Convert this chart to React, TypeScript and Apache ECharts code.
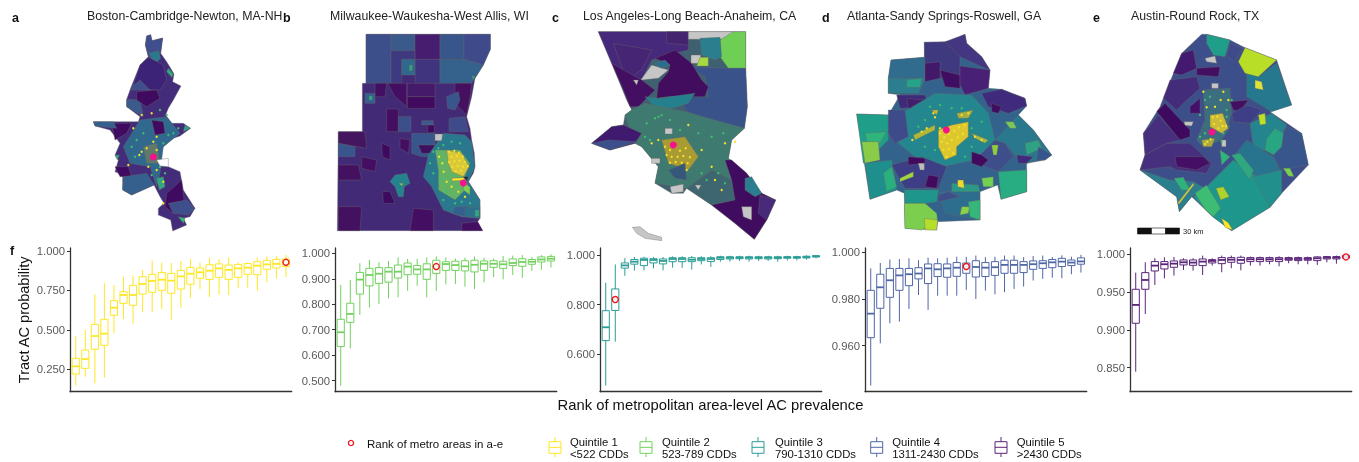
import React, { useEffect, useRef } from "react";
import * as echarts from "echarts";

// ---------- box-plot readings: [low whisker, Q1, median, Q3, high whisker] ----------
const BOX_A = [
  [0.146,0.220,0.269,0.320,0.461],[0.203,0.256,0.315,0.372,0.499],[0.161,0.377,0.461,0.535,0.725],[0.197,0.402,0.476,0.567,0.795],
  [0.478,0.593,0.641,0.685,0.784],[0.569,0.668,0.721,0.742,0.837],[0.539,0.656,0.721,0.782,0.844],[0.613,0.727,0.791,0.837,0.880],
  [0.613,0.738,0.810,0.852,0.939],[0.630,0.751,0.818,0.863,0.926],[0.561,0.732,0.812,0.858,0.924],[0.641,0.759,0.839,0.877,0.937],
  [0.702,0.789,0.856,0.896,0.951],[0.759,0.827,0.865,0.892,0.926],[0.708,0.820,0.875,0.913,0.958],[0.723,0.833,0.890,0.918,0.949],
  [0.721,0.820,0.880,0.911,0.958],[0.765,0.833,0.890,0.915,0.928],[0.768,0.852,0.894,0.920,0.928],[0.749,0.850,0.907,0.932,0.958],
  [0.801,0.884,0.915,0.941,0.964],[0.827,0.892,0.918,0.947,0.970],[0.835,0.901,0.928,0.949,0.975],
];
const BOX_B = [
  [0.480,0.634,0.690,0.741,0.876],[0.627,0.729,0.762,0.804,0.895],[0.758,0.840,0.897,0.925,0.961],[0.787,0.872,0.915,0.941,0.974],
  [0.801,0.882,0.920,0.944,0.965],[0.823,0.887,0.928,0.944,0.970],[0.827,0.903,0.928,0.954,0.984],[0.853,0.916,0.948,0.962,0.978],
  [0.873,0.918,0.937,0.952,0.978],[0.827,0.898,0.937,0.959,0.984],[0.853,0.921,0.948,0.973,0.988],[0.878,0.933,0.958,0.967,0.984],
  [0.880,0.933,0.954,0.969,0.980],[0.869,0.931,0.949,0.971,0.983],[0.860,0.927,0.955,0.973,0.988],[0.886,0.933,0.959,0.970,0.983],
  [0.907,0.945,0.959,0.971,0.980],[0.898,0.941,0.957,0.969,0.990],[0.915,0.952,0.962,0.978,0.991],[0.904,0.949,0.966,0.979,0.993],
  [0.931,0.957,0.967,0.976,0.986],[0.936,0.966,0.976,0.986,0.993],[0.944,0.970,0.979,0.988,0.996],
];
const BOX_C = [
  [0.472,0.654,0.708,0.775,0.888],[0.650,0.776,0.820,0.863,0.962],[0.916,0.947,0.958,0.968,0.987],[0.937,0.963,0.973,0.982,0.992],
  [0.938,0.957,0.980,0.987,0.993],[0.946,0.968,0.980,0.985,0.992],[0.938,0.964,0.976,0.984,0.992],[0.949,0.973,0.984,0.989,0.995],
  [0.948,0.973,0.984,0.989,0.995],[0.941,0.973,0.981,0.989,0.996],[0.962,0.977,0.984,0.989,0.995],[0.952,0.974,0.984,0.989,0.995],
  [0.973,0.982,0.989,0.993,0.997],[0.973,0.984,0.989,0.993,0.997],[0.976,0.985,0.989,0.993,0.997],[0.973,0.984,0.989,0.993,0.997],
  [0.976,0.985,0.989,0.993,0.997],[0.976,0.984,0.989,0.993,0.997],[0.973,0.985,0.989,0.993,0.997],[0.978,0.987,0.991,0.993,0.997],
  [0.978,0.987,0.991,0.993,0.997],[0.981,0.988,0.992,0.995,0.999],[0.987,0.992,0.995,0.997,1.000],
];
const BOX_D = [
  [0.9429,0.9634,0.9737,0.9837,0.9931],[0.9610,0.9760,0.9850,0.9906,0.9954],[0.9696,0.9807,0.9880,0.9931,0.9969],[0.9703,0.9837,0.9901,0.9931,0.9971],
  [0.9757,0.9857,0.9906,0.9931,0.9974],[0.9817,0.9886,0.9909,0.9934,0.9966],[0.9753,0.9866,0.9931,0.9950,0.9977],[0.9814,0.9896,0.9927,0.9951,0.9974],
  [0.9814,0.9893,0.9931,0.9950,0.9977],[0.9814,0.9897,0.9934,0.9956,0.9981],[0.9839,0.9910,0.9939,0.9954,0.9980],[0.9800,0.9894,0.9937,0.9964,0.9986],
  [0.9836,0.9896,0.9934,0.9956,0.9979],[0.9820,0.9901,0.9936,0.9960,0.9981],[0.9829,0.9910,0.9946,0.9966,0.9986],[0.9843,0.9910,0.9946,0.9966,0.9986],
  [0.9853,0.9913,0.9946,0.9960,0.9979],[0.9879,0.9927,0.9949,0.9963,0.9984],[0.9886,0.9931,0.9953,0.9964,0.9986],[0.9891,0.9934,0.9957,0.9969,0.9980],
  [0.9889,0.9939,0.9960,0.9974,0.9987],[0.9906,0.9943,0.9956,0.9967,0.9981],[0.9913,0.9949,0.9961,0.9976,0.9989],
];
const BOX_E = [
  [0.8447,0.9087,0.9330,0.9537,0.9757],[0.9210,0.9537,0.9660,0.9757,0.9894],[0.9594,0.9779,0.9850,0.9903,0.9947],[0.9682,0.9806,0.9868,0.9903,0.9960],
  [0.9718,0.9828,0.9876,0.9912,0.9965],[0.9793,0.9859,0.9894,0.9925,0.9947],[0.9784,0.9854,0.9890,0.9925,0.9947],[0.9726,0.9850,0.9903,0.9938,0.9982],
  [0.9850,0.9885,0.9912,0.9929,0.9947],[0.9762,0.9876,0.9925,0.9956,0.9982],[0.9815,0.9894,0.9929,0.9956,0.9982],[0.9788,0.9881,0.9925,0.9960,0.9982],
  [0.9850,0.9903,0.9934,0.9956,0.9969],[0.9850,0.9903,0.9934,0.9956,0.9969],[0.9868,0.9907,0.9934,0.9956,0.9969],[0.9841,0.9903,0.9934,0.9956,0.9974],
  [0.9881,0.9921,0.9938,0.9956,0.9969],[0.9868,0.9916,0.9938,0.9956,0.9969],[0.9868,0.9921,0.9938,0.9956,0.9969],[0.9859,0.9916,0.9947,0.9965,0.9974],
  [0.9894,0.9938,0.9956,0.9969,0.9978],[0.9876,0.9938,0.9956,0.9969,0.9982],[0.9929,0.9951,0.9965,0.9982,0.9991],
];
const TICKS_A = [0.25, 0.5, 0.75, 1];
const TICKS_B = [0.5, 0.6, 0.7, 0.8, 0.9, 1];
const TICKS_C = [0.6, 0.8, 1];
const TICKS_D = [0.96, 0.98, 1];
const TICKS_E = [0.85, 0.9, 0.95, 1];
// [rank, probability] of the metro area picked out in panels a-e
const RING_A = [23, 0.928];
const RING_B = [11, 0.948];
const RING_C = [2, 0.82];
const RING_D = [11, 0.9939];
const RING_E = [23, 0.9965];
const QUINTILE_COLORS = ["#FDE725", "#72D15F", "#2A9D95", "#5067A6", "#5A2478"];
const METRO_NAMES = ["Boston-Cambridge-Newton, MA-NH", "Milwaukee-Waukesha-West Allis, WI", "Los Angeles-Long Beach-Anaheim, CA", "Atlanta-Sandy Springs-Roswell, GA", "Austin-Round Rock, TX"];
const LEGEND_LINES = [["Quintile 1", "<522 CDDs"], ["Quintile 2", "523-789 CDDs"], ["Quintile 3", "790-1310 CDDs"], ["Quintile 4", "1311-2430 CDDs"], ["Quintile 5", ">2430 CDDs"]];

// ---------- map regions: [fill, flat x,y list in map units] ----------
type Region = [string, number[]];
const MAP_A: Region[] = [
  ["#432D7B",[440,108,452,104,456,122,488,114,482,160,500,185,512,205,522,222,518,245,543,258,520,300,505,325,497,345,515,370,550,370,572,385,540,408,520,415,490,440,478,470,480,492,505,500,540,515,550,570,585,625,570,650,550,655,560,675,518,693,512,660,475,645,475,625,492,610,480,590,462,555,395,585,368,570,368,525,345,515,355,480,345,465,360,430,330,390,285,378,280,365,415,365,420,350,380,320,380,298,393,262,420,195,445,170,436,135]],
  ["#3F4E8C",[440,108,452,104,456,122,488,114,482,160,465,180,445,170,436,135]],
  ["#2B7A8C",[447,160,475,152,482,175,465,192]],
  ["#3C2378",[420,195,445,172,490,195,500,240,480,270,395,268]],
  ["#3A5A8C",[380,298,420,300,430,350,380,320]],
  ["#3E4F8B",[393,262,420,240,450,270,395,270]],
  ["#3F0A5F",[410,275,470,270,480,295,440,320,410,300]],
  ["#3F0A5F",[335,370,395,370,380,400,345,420]],
  ["#3F0A5F",[345,500,385,500,395,530,360,530]],
  ["#3F0A5F",[500,580,545,540,552,600,520,640,495,620]],
  ["#35608D",[370,530,440,520,462,555,395,585,368,570]],
  ["#3E4F8B",[505,610,560,600,585,625,565,645,520,640]],
  ["#35608D",[280,365,340,365,350,385,285,378]],
  ["#31688E",[420,360,500,350,540,400,490,440,480,520,470,560,450,500,390,490,370,440]],
  ["#3F0A5F",[455,360,490,365,495,400,465,405]],
  ["#5F7A6A",[430,440,470,430,480,490,440,490]],
  ["#2FA87F",[555,375,570,385,550,395]],
  ["#2FA87F",[505,205,520,222,515,232,500,215]],
  ["#35B779",[535,650,555,655,550,670]],
  ["#2FA87F",[345,465,358,465,352,480]],
  ["#2FA87F",[470,535,490,530,495,560,478,570]],
  ["#ffffff",[470,480,505,475,505,500,480,498]],
];
const MAP_B: Region[] = [
  ["#432A77",[213,103,586,103,586,148,565,195,540,235,530,290,515,350,525,385,530,420,538,460,540,500,535,520,520,545,530,560,555,600,555,655,548,665,563,692,127,692,130,395,202,395,202,250,213,250]],
  ["#3D4F8A",[213,103,288,103,288,250,213,250]],
  ["#3B5A8C",[288,103,360,103,360,152,288,152]],
  ["#471D6F",[360,103,435,103,435,178,360,178]],
  ["#39568C",[435,103,507,103,507,178,435,178]],
  ["#3F4A8A",[507,103,586,103,586,148,565,195,507,178]],
  ["#3F3A80",[288,152,360,152,360,178,320,178,320,250,288,250]],
  ["#40347E",[360,178,435,178,435,250,360,250]],
  ["#35618D",[435,178,507,178,565,195,540,235,530,250,435,250]],
  ["#31688E",[320,178,360,178,360,225,320,225]],
  ["#2FA87F",[343,195,352,195,352,212,343,212]],
  ["#2FA87F",[530,228,540,228,535,240]],
  ["#440F62",[240,250,275,250,270,290,240,290]],
  ["#440F62",[278,250,335,250,335,320,300,290]],
  ["#451A6B",[337,250,420,250,420,290,337,290]],
  ["#420A5F",[337,290,420,290,420,325,337,325]],
  ["#440F62",[275,327,310,327,310,395,275,395]],
  ["#3D4F8A",[310,350,348,350,348,395,310,395]],
  ["#451060",[480,250,530,250,525,290,515,345,480,310]],
  ["#39568C",[455,290,490,275,495,300,480,330,458,325]],
  ["#3D5A8C",[380,362,415,362,415,375,380,375]],
  ["#420A5F",[398,375,418,375,418,398,398,398]],
  ["#3F4A8A",[462,355,510,350,520,395,462,395]],
  ["#35608D",[210,280,240,280,240,310,210,310]],
  ["#2FA87F",[222,288,232,288,232,300,222,300]],
  ["#44165F",[130,395,210,395,215,445,130,430]],
  ["#39568C",[130,430,180,440,180,470,130,470]],
  ["#441060",[130,495,190,495,200,540,130,540]],
  ["#440F62",[200,470,245,480,240,515,200,505]],
  ["#3E0A5F",[260,430,285,440,285,480,262,470]],
  ["#440F62",[315,415,345,420,340,460,315,445]],
  ["#441060",[130,620,200,620,195,692,130,692]],
  ["#440F62",[355,625,415,630,415,692,345,692]],
  ["#3A0B5E",[263,575,285,575,300,610,265,610]],
  ["#440F62",[500,670,548,665,563,692,500,692]],
  ["#39568C",[350,400,420,400,420,470,380,470,350,460]],
  ["#3F1060",[370,435,420,435,420,460,380,460]],
  ["#2A788E",[400,465,445,400,510,405,530,425,540,500,520,545,555,600,555,655,500,650,445,630,410,560,385,530]],
  ["#C4C4C4",[420,402,443,402,440,422,420,422]],
  ["#63B365",[420,450,495,450,525,490,510,530,520,560,480,600,430,570,430,510]],
  ["#D9C93A",[455,450,500,460,522,500,505,530,470,515,460,490]],
  ["#FDE725",[470,535,508,533,508,541,472,543]],
  ["#222244",[505,530,520,530,515,542]],
  ["#7AD151",[505,550,525,560,525,585,505,570]],
  ["#35608D",[480,620,520,620,510,650,470,640]],
  ["#2A6F8E",[510,625,555,620,555,655,510,650]],
  ["#2FA87F",[540,630,552,630,552,650,540,650]],
  ["#25838E",[300,525,335,520,345,550,328,560,325,590,310,590,300,560,285,545]],
  ["#9ACD50",[312,550,325,550,320,558]],
];
const MAP_C: Region[] = [
  ["#3F6070",[130,95,572,95,572,205,577,320,568,385,530,420,520,475,575,520,620,580,662,600,635,660,598,718,540,670,470,615,395,565,385,580,350,580,300,550,310,500,260,440,240,430,165,450,110,430,170,380,205,375,210,345,230,330,215,300,170,190]],
  ["#46297A",[130,95,400,95,400,150,340,165,290,180,260,240,215,270,170,190]],
  ["#472575",[175,130,290,150,260,210,215,240]],
  ["#45246F",[335,95,400,95,400,135,335,130]],
  ["#C6C6C6",[400,95,535,95,535,118,400,118]],
  ["#6FCF55",[535,95,572,95,572,205,520,205,495,170,495,120]],
  ["#2A7E8E",[435,115,495,112,500,170,480,180,440,165]],
  ["#39528A",[400,200,520,205,572,205,577,320,568,385,470,370,390,330,380,290,460,290,450,230]],
  ["#420C5F",[300,175,360,150,410,190,440,240,460,260,450,290,340,290,305,295,310,250,340,215,345,195]],
  ["#C6C6C6",[408,165,437,165,437,190,408,190]],
  ["#A6D940",[435,172,460,172,460,198,425,198]],
  ["#C6C6C6",[257,240,290,195,340,210,310,235,260,240]],
  ["#2C6E8E",[295,190,330,180,345,195,320,205]],
  ["#440E62",[170,190,260,240,300,270,270,300,250,320,225,320,205,270]],
  ["#25808E",[270,290,310,295,420,280,400,310,350,325,300,320]],
  ["#3F7A70",[210,345,230,330,270,310,390,335,568,385,530,420,520,475,575,520,460,560,395,565,300,550,310,500,260,440,240,430]],
  ["#3F1A6F",[110,430,170,380,205,375,260,400,240,430,165,450]],
  ["#3A4F8C",[110,430,160,420,245,425,165,450]],
  ["#A89B33",[320,420,390,410,430,470,400,510,340,490]],
  ["#35587A",[340,510,390,490,395,540,360,535]],
  ["#3D6670",[395,565,470,510,530,540,540,600,470,615]],
  ["#3F0C60",[510,480,530,480,575,520,620,580,662,600,635,660,598,718,540,670,470,615,540,600,530,540]],
  ["#2A7E8E",[570,535,590,530,620,580,600,590,570,570]],
  ["#482A7A",[615,585,662,600,635,660,610,640]],
  ["#C6C6C6",[345,560,385,552,385,575,350,580]],
  ["#C6C6C6",[330,385,352,385,352,402,330,402]],
  ["#C6C6C6",[290,475,315,475,315,490,290,490]],
  ["#C6C6C6",[420,555,438,555,430,570]],
  ["#C6C6C6",[560,620,590,620,590,660,565,650]],
  ["#C6C6C6",[235,240,250,240,245,255]],
  ["#C6C6C6",[232,682,255,680,280,700,320,712,320,722,270,715,245,700]],
];
const MAP_D: Region[] = [
  ["#33638D",[298,127,380,125,420,103,425,130,470,170,495,210,490,265,530,268,600,295,605,318,580,345,625,390,680,465,660,480,605,490,605,575,528,598,518,555,465,575,465,660,338,665,335,690,240,685,238,580,215,570,135,598,95,342,190,345,225,285,190,280,190,235,198,180,298,172]],
  ["#3F3A80",[298,127,380,125,405,165,405,235,300,235]],
  ["#453681",[360,125,420,103,425,130,470,170,495,210,470,200,405,170]],
  ["#2F6C8E",[198,180,298,172,298,235,190,235]],
  ["#2C7E8E",[190,235,300,235,280,280,190,280]],
  ["#25A38A",[245,240,290,235,285,262,245,262]],
  ["#42186B",[300,190,345,185,345,235,300,245]],
  ["#3F0E62",[345,210,405,225,405,265,360,260]],
  ["#482177",[405,198,495,210,490,265,420,285,405,255]],
  ["#3D2A78",[215,285,300,285,310,320,225,325]],
  ["#431E6E",[245,295,300,300,300,330,250,325]],
  ["#3F2A7B",[470,280,530,268,600,295,605,318,550,340,490,320]],
  ["#3F0E62",[500,310,530,320,520,340,500,335]],
  ["#24868E",[230,340,330,280,440,285,490,340,510,420,450,480,350,500,270,470,220,430]],
  ["#1F9E89",[95,342,190,345,190,420,130,480,115,490]],
  ["#2FB47C",[120,400,185,395,165,430,125,425]],
  ["#8ACB4A",[110,425,160,425,165,480,120,490]],
  ["#3E4B8A",[190,330,240,330,250,410,210,430,190,400]],
  ["#1F8F8D",[120,490,200,480,215,570,135,598]],
  ["#2AB07F",[175,520,200,500,215,560,185,575]],
  ["#3D3E85",[200,495,290,470,365,500,340,565,240,565]],
  ["#420A5F",[250,470,300,475,300,490,250,495]],
  ["#420A5F",[310,525,340,530,335,565,300,560]],
  ["#A2D73E",[225,535,265,515,265,530,225,545]],
  ["#BDBDBD",[280,490,298,490,298,510,285,510]],
  ["#2A788E",[510,420,580,345,625,390,680,465,605,490,575,470,540,430]],
  ["#2FA283",[600,430,640,420,650,445,605,465]],
  ["#34568C",[640,440,680,465,660,480,635,480]],
  ["#3F2A7B",[575,465,625,470,605,490,580,490]],
  ["#7AC85A",[540,365,565,365,575,385,555,385]],
  ["#3D4E8A",[450,480,510,420,540,430,565,470,520,515,480,500]],
  ["#420A5F",[440,455,470,465,490,480,470,500,440,490]],
  ["#27AD81",[520,515,605,510,605,575,528,598]],
  ["#72D052",[470,535,505,530,505,560,475,560]],
  ["#8CCF40",[500,435,520,435,515,465,505,465]],
  ["#1F968B",[238,570,340,570,335,605,305,610,240,610]],
  ["#2D6E8E",[340,575,465,575,465,660,360,640]],
  ["#3C4F8A",[340,585,370,575,405,590,340,605]],
  ["#2A9A86",[380,550,460,555,465,575,380,575]],
  ["#EAD92F",[398,540,415,540,418,565,398,560]],
  ["#7CCF4E",[238,610,300,610,335,640,338,665,290,690,240,685]],
  ["#B5DE2B",[298,655,338,660,335,690,300,690]],
  ["#8AD148",[410,620,435,620,430,640,405,645]],
  ["#35B779",[430,605,465,600,465,660,435,650]],
  ["#DCC72E",[340,390,380,375,430,365,430,410,395,440,395,465,360,480,340,440]],
  ["#B0B83A",[265,405,330,375,330,390,270,420]],
  ["#C8BC30",[320,330,340,330,335,345]],
  ["#A6B040",[395,340,445,330,430,355,400,355]],
  ["#A4B940",[440,400,490,420,480,430,450,415]],
];
const MAP_E: Region[] = [
  ["#3D4F8A",[335,103,350,103,420,120,465,143,560,180,605,315,540,335,635,400,655,495,575,580,540,622,425,692,368,650,345,628,305,590,268,635,260,590,150,510,165,465,160,400,210,320,220,295,275,160]],
  ["#1F9E89",[350,103,420,120,405,170,370,165,350,130]],
  ["#431A6F",[275,160,310,150,320,205,275,225,250,220]],
  ["#440F62",[320,205,390,200,385,230,320,225]],
  ["#3E4A8A",[420,130,460,145,430,185,410,165]],
  ["#25788E",[445,185,505,230,560,190,605,315,545,335,470,290,470,220]],
  ["#B9DE28",[465,143,560,180,505,230,465,220,445,185]],
  ["#DEE13A",[495,240,515,245,520,270,495,265]],
  ["#432C7A",[220,295,240,240,320,230,330,265,280,310,260,330]],
  ["#46307E",[160,400,205,345,270,420,230,430,165,465]],
  ["#3E0A5F",[200,335,225,310,300,390,300,410,270,420]],
  ["#3B6E7E",[340,270,420,265,425,340,415,370,420,380,395,420,340,440,320,420,345,360]],
  ["#43106B",[330,295,300,320,300,340,330,340]],
  ["#440F62",[420,305,475,300,450,335,430,330]],
  ["#3D3E85",[425,340,470,315,515,330,480,370,430,365]],
  ["#CCBB38",[360,345,398,340,415,385,395,400,360,380]],
  ["#A8A840",[335,420,375,415,365,440,340,440]],
  ["#25858E",[480,370,545,340,590,375,550,460,490,440]],
  ["#39568C",[590,380,635,400,655,495,575,510,550,470]],
  ["#28A681",[530,415,555,385,580,400,575,440,550,465,525,450]],
  ["#BDDF26",[505,345,525,340,528,372,510,375]],
  ["#46307E",[150,510,165,465,230,430,300,430,365,490,350,520,260,510,240,500]],
  ["#450F65",[255,470,340,470,360,490,320,510,260,500]],
  ["#2A7E8E",[150,510,240,540,310,545,345,565,305,590,268,635,260,590]],
  ["#2EB37C",[252,535,280,532,300,570,275,570]],
  ["#28748E",[430,470,470,420,550,470,575,520,540,540,500,530]],
  ["#1F968B",[345,565,430,480,500,530,540,622,425,692,368,650,345,628,310,590]],
  ["#21908C",[490,530,575,510,575,580,540,622]],
  ["#3DBC74",[315,580,350,555,392,625,370,650,345,628]],
  ["#2FA87F",[425,465,450,460,490,510,480,540]],
  ["#2FB47C",[390,450,420,470,395,495]],
  ["#AED32A",[378,565,400,560,418,590,392,600]],
  ["#FDE725",[395,655,415,668,428,690,405,682]],
  ["#7AD151",[580,505,600,505,612,530,595,528]],
  ["#C8C840",[262,610,310,548,312,555,268,612]],
  ["#C6C6C6",[345,175,375,168,380,190,350,185]],
  ["#C6C6C6",[365,250,385,250,385,265,365,265]],
  ["#C6C6C6",[282,365,310,365,305,378,285,376]],
  ["#C6C6C6",[395,420,408,420,408,440,395,440]],
];
const MAP_CENTRES = [[460, 471], [505, 549], [355, 435], [364, 390], [366, 396]];

// small tracts in the dense city cores, in the same map units
const SPECKS_YELLOW = [
  [[400,385],[425,345],[455,340],[460,425],[440,445],[425,455],[470,450],[445,500],[470,510],[490,545],[385,495],[490,610],[470,410],[418,465]],
  [[462,455],[478,452],[492,458],[470,470],[486,468],[503,470],[462,486],[478,484],[494,482],[510,486],[472,500],[488,498],[504,500],[518,498],[482,514],[498,512],[432,470],[442,490],[446,515],[470,560],[490,575],[510,590],[455,545]],
  [[330,440],[345,450],[360,440],[375,452],[392,445],[335,465],[350,470],[368,470],[385,468],[405,472],[345,488],[362,486],[380,488],[398,490],[290,430],[310,420],[400,375],[440,450],[470,500],[500,570],[480,540],[510,430],[540,425],[395,510]],
  [[345,400],[358,412],[372,402],[388,392],[402,382],[418,376],[350,425],[366,430],[380,420],[398,412],[414,402],[355,450],[372,448],[385,460],[365,470],[345,385],[290,395],[305,385],[325,340],[410,345],[430,340],[330,352],[450,410],[470,420],[262,420],[405,550]],
  [[368,352],[382,350],[392,362],[372,372],[385,385],[398,378],[375,320],[392,300],[350,322],[352,425],[362,418],[345,432],[408,378],[415,300],[340,275],[400,275]],
];
const SPECKS_GREEN = [
  [[395,440],[410,420],[430,400],[505,405],[520,400],[535,385],[490,430],[500,345],[480,330],[495,520],[480,500],[455,525],[405,470]],
  [[415,455],[430,445],[445,435],[470,425],[495,430],[440,540],[455,575],[480,610],[500,605],[525,610],[445,600],[415,520],[405,490]],
  [[275,370],[300,355],[320,345],[345,360],[375,390],[430,400],[470,410],[505,400],[440,520],[490,520],[510,550],[455,540],[285,420],[270,410],[310,350]],
  [[315,320],[345,315],[380,325],[410,325],[300,360],[280,380],[440,385],[470,365],[330,450],[300,440],[440,440],[420,470]],
  [[345,300],[360,290],[410,330],[425,300],[330,410],[345,400],[400,400],[410,350],[330,345],[395,425]],
];

function boxSeries(box: number[][], idx: number, color: string, ring: number[]) {
  const data = box.map((b, i) => [i + 1, ...b]);
  return [
    {
      type: "custom", xAxisIndex: idx, yAxisIndex: idx, silent: true, clip: false,
      encode: { x: 0, y: [1, 2, 3, 4, 5] }, data,
      renderItem: (_: any, api: any) => {
        const x = api.value(0);
        const w = api.size([1, 0])[0] * 0.75;
        const p = (v: number) => api.coord([x, v]);
        const [cx, low] = p(api.value(1));
        const q1 = p(api.value(2))[1], med = p(api.value(3))[1], q3 = p(api.value(4))[1], high = p(api.value(5))[1];
        const thin = { stroke: color, lineWidth: 1, fill: "none" };
        return {
          type: "group",
          children: [
            { type: "line", shape: { x1: cx, y1: high, x2: cx, y2: q3 }, style: thin },
            { type: "line", shape: { x1: cx, y1: q1, x2: cx, y2: low }, style: thin },
            { type: "rect", shape: { x: cx - w / 2, y: q3, width: w, height: q1 - q3 }, style: thin },
            { type: "line", shape: { x1: cx - w / 2, y1: med, x2: cx + w / 2, y2: med }, style: { stroke: color, lineWidth: 1.8 } },
          ],
        };
      },
    },
    {
      type: "scatter", xAxisIndex: idx, yAxisIndex: idx, silent: true, symbolSize: 6, z: 5,
      data: [ring],
      itemStyle: { color: "rgba(255,255,255,0.85)", borderColor: "#F5141E", borderWidth: 1.4, opacity: 1 },
    },
  ];
}

function mapSeries(regions: Region[], idx: number, centre: number[], yellow: number[][], green: number[][]) {
  const specks = (data: number[][], color: string) => ({
    type: "scatter", xAxisIndex: idx, yAxisIndex: idx, silent: true, symbolSize: 2.4, z: 4,
    data, itemStyle: { color, opacity: 1 },
  });
  return [
    {
      type: "custom", xAxisIndex: idx, yAxisIndex: idx, silent: true, clip: false,
      encode: { x: 0, y: 1 }, data: regions.map((_, i) => [i + 1, i + 1]),
      renderItem: (_: any, api: any) => {
        const [fill, flat] = regions[api.value(0) - 1];
        const points: number[][] = [];
        for (let i = 0; i < flat.length; i += 2) points.push(api.coord([flat[i], flat[i + 1]]));
        return { type: "polygon", shape: { points }, style: { fill, stroke: "rgba(105,105,105,0.75)", lineWidth: 0.5 } };
      },
    },
    specks(green, "#3FBC73"),
    specks(yellow, "#F3E02B"),
    {
      type: "scatter", xAxisIndex: idx, yAxisIndex: idx, silent: true, symbolSize: 7, z: 5,
      data: [centre], itemStyle: { color: "#F5128A", opacity: 1 },
    },
  ];
}

const PLOT_LEFTS = [70, 335, 600, 865, 1130];
const PLOT_RANGES = [[0.108, 1.019], [0.4566, 1.021], [0.4477, 1.0283], [0.94025, 1.00184], [0.8182, 1.0083]];
const PLOT_TICKS = [TICKS_A, TICKS_B, TICKS_C, TICKS_D, TICKS_E];
const MAP_BOXES = [[0, 300, 235], [295, 270, 235], [555, 270, 245], [825, 270, 235], [1090, 269, 240]];
const TITLE_LEFTS = [87, 330, 583, 847, 1131];
const LETTERS = [["a", 12, 18], ["b", 283, 18], ["c", 552, 18], ["d", 822, 18], ["e", 1093, 18], ["f", 10, 251]];
const LEGEND_ICONS = [555, 646, 758, 876.7, 1001];
const LEGEND_TEXTS = [570, 662, 775, 892.3, 1016.7];
const FONT = '"Liberation Sans", Arial, sans-serif';

export default function App() {
  const ref = useRef<HTMLDivElement>(null);
  useEffect(() => {
    const chart = echarts.init(ref.current!, undefined, { renderer: "svg" });
    const boxes = [BOX_A, BOX_B, BOX_C, BOX_D, BOX_E];
    const rings = [RING_A, RING_B, RING_C, RING_D, RING_E];
    const maps = [MAP_A, MAP_B, MAP_C, MAP_D, MAP_E];
    const grids: any[] = [], xAxes: any[] = [], yAxes: any[] = [], series: any[] = [];

    PLOT_LEFTS.forEach((left, i) => {
      grids.push({ left, top: 248, width: 221.7, height: 143.7 });
      xAxes.push({
        type: "value", gridIndex: i, min: 0.4, max: 23.6,
        axisLine: { show: true, onZero: false, lineStyle: { color: "#333", width: 1.3 } },
        axisTick: { show: false }, axisLabel: { show: false }, splitLine: { show: false },
      });
      yAxes.push({
        type: "value", gridIndex: i, min: PLOT_RANGES[i][0], max: PLOT_RANGES[i][1],
        axisLine: { show: true, onZero: false, lineStyle: { color: "#333", width: 1.3 } },
        axisTick: { show: true, length: 3, customValues: PLOT_TICKS[i], lineStyle: { color: "#333", width: 1 } },
        axisLabel: {
          show: true, customValues: PLOT_TICKS[i], margin: 5, color: "#5A5A5A", fontSize: 11.3, fontFamily: FONT,
          formatter: (v: number) => Number(v).toFixed(3),
        },
        splitLine: { show: false },
        ...(i === 0 ? {
          name: "Tract AC probability", nameLocation: "middle", nameGap: 39, nameRotate: 90,
          nameTextStyle: { color: "#111", fontSize: 14.6, fontFamily: FONT },
        } : {}),
      });
      series.push(...boxSeries(boxes[i], i, QUINTILE_COLORS[i], rings[i]));
    });
    MAP_BOXES.forEach(([left, w, h], j) => {
      const i = j + 5;
      grids.push({ left, top: 0, width: w, height: h });
      xAxes.push({ type: "value", gridIndex: i, min: 0, max: w * 3, show: false, splitLine: { show: false } });
      yAxes.push({ type: "value", gridIndex: i, min: 0, max: h * 3, inverse: true, show: false, splitLine: { show: false } });
      series.push(...mapSeries(maps[j], i, MAP_CENTRES[j], SPECKS_YELLOW[j], SPECKS_GREEN[j]));
    });

    const graphic: any[] = [];
    LETTERS.forEach(([t, x, y]) => graphic.push({
      type: "text", x, y, style: { text: t, fill: "#111", font: `bold 12.5px ${FONT}`, textVerticalAlign: "middle" },
    }));
    graphic.push(
      { type: "rect", shape: { x: 1137.5, y: 228, width: 14, height: 6 }, style: { fill: "#111", stroke: "#111", lineWidth: 0.6 } },
      { type: "rect", shape: { x: 1151.5, y: 228, width: 14, height: 6 }, style: { fill: "#fff", stroke: "#111", lineWidth: 0.6 } },
      { type: "rect", shape: { x: 1165.5, y: 228, width: 14, height: 6 }, style: { fill: "#111", stroke: "#111", lineWidth: 0.6 } },
      { type: "text", x: 1183, y: 231, style: { text: "30 km", fill: "#222", font: `7.5px ${FONT}`, textVerticalAlign: "middle" } },
      { type: "text", x: 710.5, y: 405, style: { text: "Rank of metropolitan area-level AC prevalence", fill: "#111", font: `14.8px ${FONT}`, textAlign: "center", textVerticalAlign: "middle" } },
      { type: "circle", shape: { cx: 351, cy: 443, r: 2.6 }, style: { fill: "#fff", stroke: "#F5141E", lineWidth: 1.3 } },
      { type: "text", x: 367, y: 444, style: { text: "Rank of metro areas in a-e", fill: "#111", font: `11.5px ${FONT}`, textVerticalAlign: "middle" } },
    );
    LEGEND_ICONS.forEach((x, i) => {
      const s = { stroke: QUINTILE_COLORS[i], lineWidth: 1, fill: "none" };
      graphic.push(
        { type: "line", shape: { x1: x, y1: 437, x2: x, y2: 457 }, style: s },
        { type: "rect", shape: { x: x - 6, y: 441.7, width: 12, height: 11.6 }, style: { ...s, fill: "#fff" } },
        { type: "line", shape: { x1: x - 6, y1: 447.3, x2: x + 6, y2: 447.3 }, style: s },
        { type: "text", x: LEGEND_TEXTS[i], y: 441.7, style: { text: LEGEND_LINES[i][0], fill: "#111", font: `11.3px ${FONT}`, textVerticalAlign: "middle" } },
        { type: "text", x: LEGEND_TEXTS[i], y: 454, style: { text: LEGEND_LINES[i][1], fill: "#111", font: `11.3px ${FONT}`, textVerticalAlign: "middle" } },
      );
    });

    chart.setOption({
      animation: false,
      backgroundColor: "#fff",
      title: METRO_NAMES.map((text, i) => ({
        text, left: TITLE_LEFTS[i], top: 10, padding: 0,
        textStyle: { color: "#222", fontSize: 12.3, fontWeight: "normal", fontFamily: FONT },
      })),
      grid: grids, xAxis: xAxes, yAxis: yAxes, series, graphic,
    });
    return () => chart.dispose();
  }, []);
  return <div ref={ref} style={{ position: "fixed", left: 0, top: 0, width: 1359, height: 462, filter: "blur(0.4px)" }} />;
}
